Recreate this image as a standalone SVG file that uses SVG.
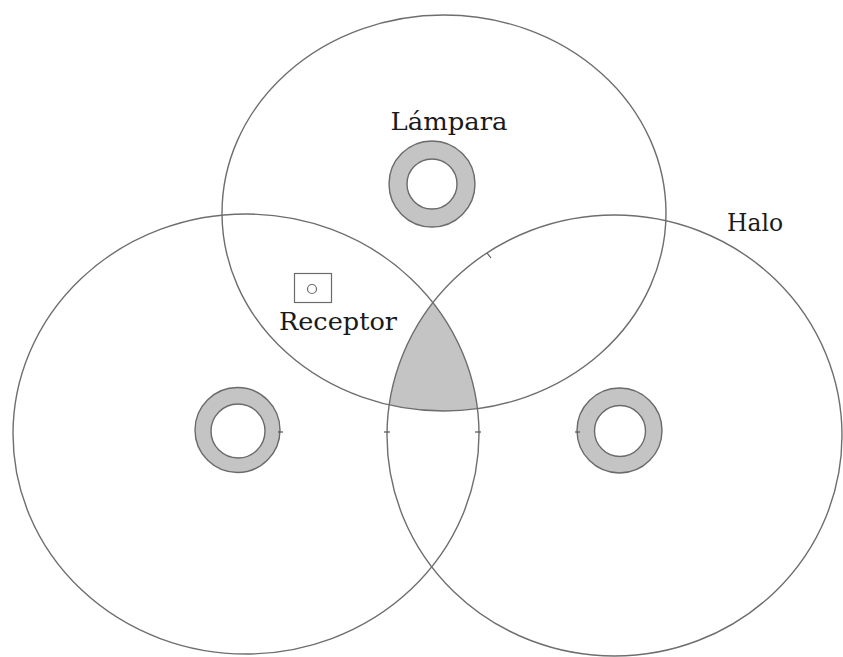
<svg xmlns="http://www.w3.org/2000/svg" width="843" height="657" viewBox="0 0 843 657">
<style>
.halo{fill:none;stroke:#6e6e6e;stroke-width:1.4}
.ring{fill:#c4c4c4;stroke:#6a6a6a;stroke-width:1.4}
.hole{fill:#ffffff;stroke:#6a6a6a;stroke-width:1.4}
.lbl{font-family:"DejaVu Serif","Liberation Serif",serif;font-size:24.5px;fill:#1a1a1a}
.tick{stroke:#555;stroke-width:1.2}
</style>
<defs>
<clipPath id="cL"><ellipse cx="246" cy="434" rx="233" ry="220"/></clipPath>
<clipPath id="cR"><ellipse cx="614.5" cy="435.5" rx="227.5" ry="220.5"/></clipPath>
</defs>
<rect width="843" height="657" fill="#ffffff"/>
<g id="overlap">
<g clip-path="url(#cL)"><ellipse cx="444" cy="213" rx="222" ry="198" fill="#c4c4c4" clip-path="url(#cR)"/></g>
</g>
<g id="halo-top"><ellipse class="halo" cx="444" cy="213" rx="222" ry="198"/></g>
<g id="halo-left"><ellipse class="halo" cx="246" cy="434" rx="233" ry="220"/></g>
<g id="halo-right"><ellipse class="halo" cx="614.5" cy="435.5" rx="227.5" ry="220.5"/></g>
<g id="lamp-top"><circle class="ring" cx="432" cy="184" r="43"/><circle class="hole" cx="432" cy="184" r="25"/></g>
<g id="lamp-left"><circle class="ring" cx="237.5" cy="430" r="42.5"/><circle class="hole" cx="238" cy="431" r="27"/></g>
<g id="lamp-right"><circle class="ring" cx="619.5" cy="430.5" r="42.5"/><circle class="hole" cx="620" cy="431" r="25.5"/></g>
<g id="receptor">
<rect x="294.5" y="273.5" width="37" height="29" fill="none" stroke="#6a6a6a" stroke-width="1.2"/>
<circle cx="312" cy="289" r="4.5" fill="none" stroke="#6a6a6a" stroke-width="1.2"/>
<text class="lbl" x="338" y="330" text-anchor="middle" textLength="118" lengthAdjust="spacingAndGlyphs">Receptor</text>
</g>
<g id="label-lampara"><text class="lbl" x="449" y="130" text-anchor="middle" textLength="117" lengthAdjust="spacingAndGlyphs">Lámpara</text></g>
<g id="label-halo"><text class="lbl" x="755" y="231" text-anchor="middle" textLength="56" lengthAdjust="spacingAndGlyphs">Halo</text></g>
<g id="ticks">
<line class="tick" x1="384" y1="432" x2="390" y2="432"/>
<line class="tick" x1="475" y1="432" x2="481" y2="432"/>
<line class="tick" x1="278" y1="432" x2="283" y2="432"/>
<line class="tick" x1="575" y1="432" x2="580" y2="432"/>
<line class="tick" x1="487" y1="253" x2="491" y2="258"/>
</g>
</svg>
